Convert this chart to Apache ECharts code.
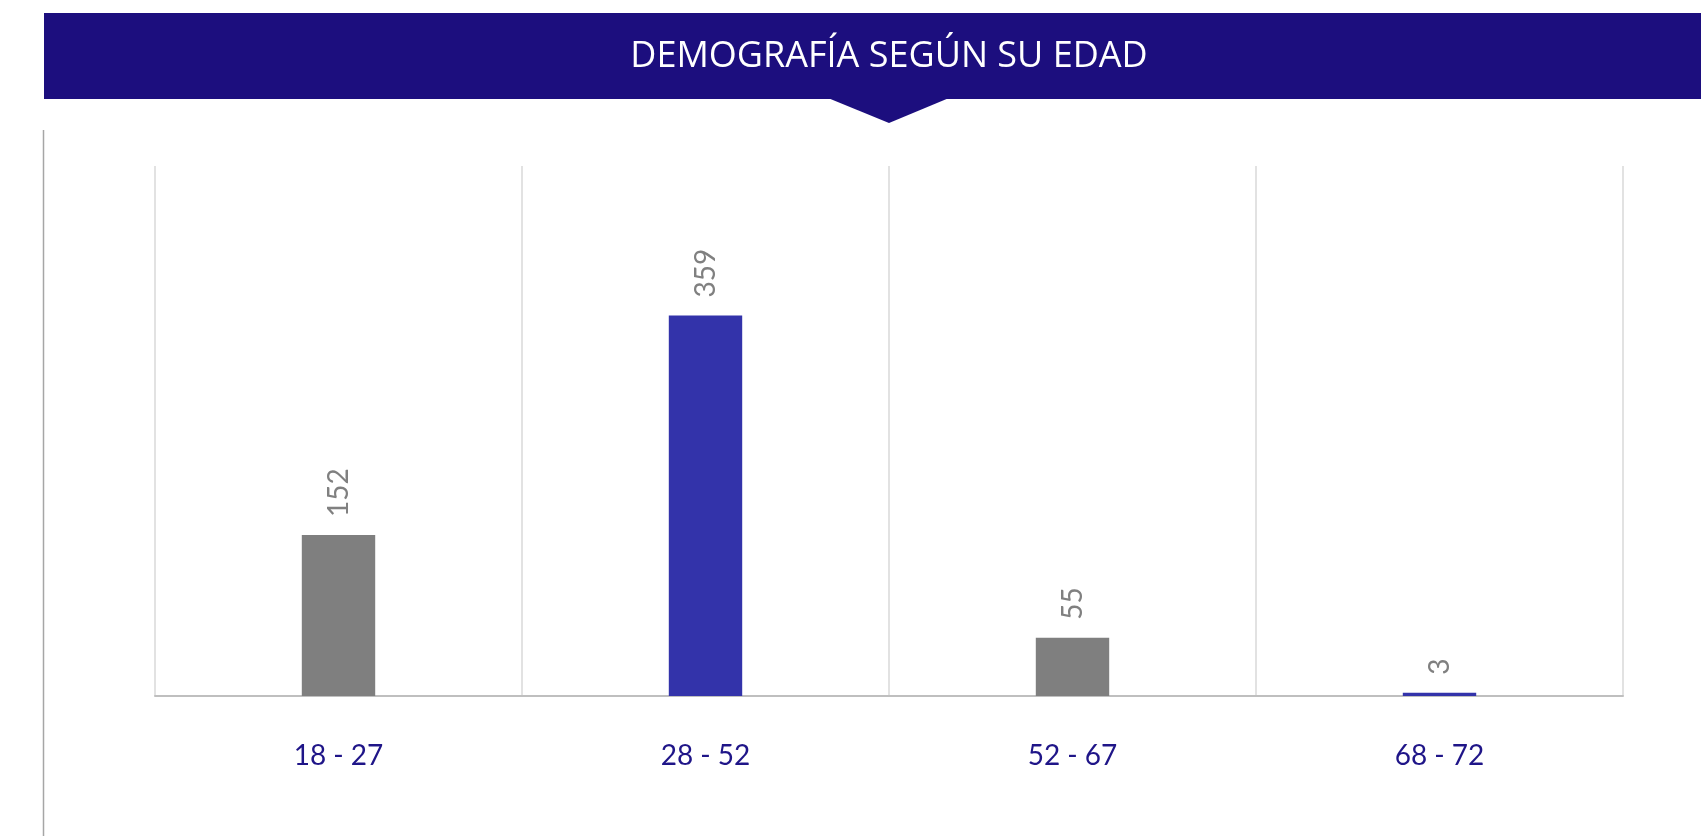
<!DOCTYPE html>
<html><head><meta charset="utf-8">
<script src="https://cdn.jsdelivr.net/npm/echarts@6/dist/echarts.min.js"></script>
<style>html,body{margin:0;padding:0;background:#fff}#c{width:1701px;height:836px}</style>
</head><body><div id="c"></div>
<script>
const titleText = 'DEMOGRAFÍA SEGÚN SU EDAD';
const categories = ['18 - 27', '28 - 52', '52 - 67', '68 - 72'];
const values = [152, 359, 55, 3];
const barColors = ['#7f7f7f', '#3333aa', '#7f7f7f', '#3333aa'];

const chart = echarts.init(document.getElementById('c'));
chart.setOption({
  animation: false,
  grid: { left: 155, right: 78, top: 166, bottom: 140 },
  xAxis: {
    type: 'category',
    data: categories,
    axisLine: { show: true, lineStyle: { color: '#bfbfbf', width: 2 } },
    axisTick: { show: false },
    splitLine: { show: true, lineStyle: { color: '#d9d9d9', width: 1.5 } },
    axisLabel: { color: '#1f1588', fontFamily: 'Lato', fontSize: 28, margin: 46 }
  },
  yAxis: {
    type: 'value', min: 0, max: 500, interval: 100,
    show: false, splitLine: { show: false }
  },
  series: [{
    type: 'bar',
    barWidth: '20%',
    data: values.map((v, i) => ({ value: v, itemStyle: { color: barColors[i] } })),
    label: {
      show: true, position: 'top', rotate: 90, distance: 18,
      align: 'left', verticalAlign: 'middle',
      color: '#808080', fontFamily: 'Lato', fontSize: 28
    }
  }],
  graphic: [
    { type: 'rect', shape: { x: 44, y: 13, width: 1657, height: 86 }, style: { fill: '#1c0e7e' } },
    { type: 'polygon', shape: { points: [[828, 98], [949, 98], [889, 123]] }, style: { fill: '#1c0e7e' } },
    { type: 'text', x: 889, y: 57, style: { text: titleText, fill: '#ffffff', font: '500 36px "Open Sans"', textAlign: 'center', textVerticalAlign: 'middle' } },
    { type: 'line', shape: { x1: 43.5, y1: 130, x2: 43.5, y2: 836 }, style: { stroke: '#a6a6a6', lineWidth: 1.5 } }
  ]
});
</script></body></html>
